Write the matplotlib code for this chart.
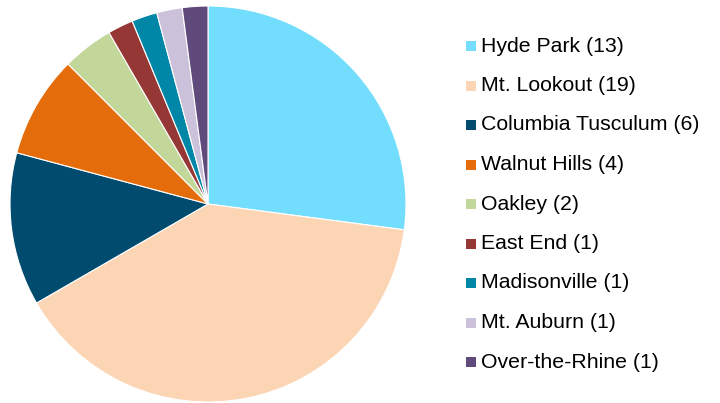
import matplotlib.pyplot as plt
from matplotlib.patches import Rectangle

plt.rcParams['font.family'] = ['Liberation Sans', 'DejaVu Sans']

neighborhoods = ['Hyde Park', 'Mt. Lookout', 'Columbia Tusculum', 'Walnut Hills', 'Oakley',
                 'East End', 'Madisonville', 'Mt. Auburn', 'Over-the-Rhine']
counts = [13, 19, 6, 4, 2, 1, 1, 1, 1]
colors = ['#72DDFC', '#FCD5B5', '#004B6E', '#E46C0A', '#C4D79B',
          '#953735', '#0087A8', '#CCC1DA', '#604A7B']

W, H = 720, 403
fig = plt.figure(figsize=(W / 100, H / 100), dpi=100)

# pie centre ~ (208, 204) px, radius ~ 198 px
cx, cy, r = 208, 204, 198
ax = fig.add_axes([(cx - r) / W, (H - cy - r) / H, 2 * r / W, 2 * r / H])
ax.pie(counts, colors=colors, startangle=90, counterclock=False,
       wedgeprops=dict(edgecolor='white', linewidth=0.8))
ax.set_xlim(-1, 1)
ax.set_ylim(-1, 1)
ax.set_aspect('equal')
ax.axis('off')

# legend drawn by hand
y0, step = 46, 39.5
for i, (name, n) in enumerate(zip(neighborhoods, counts)):
    y = y0 + i * step
    fig.patches.append(Rectangle(((466) / W, (H - y - 5) / H), 10 / W, 10 / H,
                                 transform=fig.transFigure, facecolor=colors[i],
                                 edgecolor='none'))
    fig.text(481 / W, (H - y) / H, f'{name} ({n})', fontsize=15.3, va='center',
             ha='left', color='black')

fig.savefig('out.png', dpi=100)
